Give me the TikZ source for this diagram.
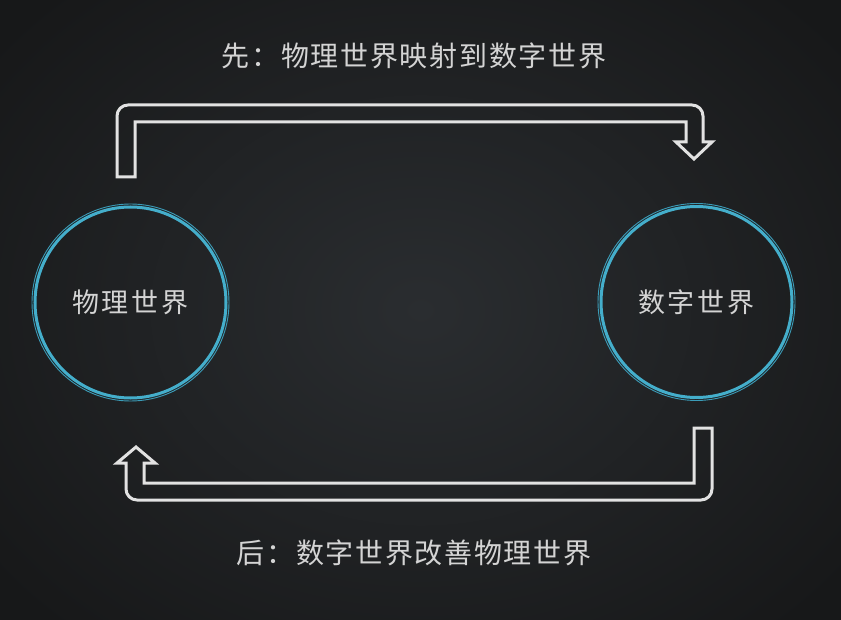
\documentclass[tikz,border=0pt]{standalone}
\usepackage{fontspec}
\newfontfamily\cjk[LetterSpace=6]{Noto Sans CJK SC}
\newfontfamily\cjkwide[LetterSpace=11]{Noto Sans CJK SC}
\definecolor{bginner}{HTML}{2A2D30}
\definecolor{bgouter}{HTML}{171819}
\definecolor{ringblue}{HTML}{44AECB}
\definecolor{ringthin}{HTML}{3B9CB8}
\definecolor{txtgray}{HTML}{D4D4D4}
\definecolor{arrowwhite}{HTML}{E2E2E2}
\tikzset{
  label text/.style={text=txtgray, font=\cjk\fontsize{28}{32}\selectfont, inner sep=0pt},
  world/.style={circle, draw=ringblue, line width=3pt, minimum size=191pt, inner sep=0pt,
    text=txtgray, font=\cjkwide\fontsize{27}{30}\selectfont},
  thinring/.style={draw=ringthin, line width=0.9pt},
  bandarrow/.style={draw=arrowwhite, line width=3pt, line join=miter},
}
\begin{document}
\begin{tikzpicture}[x=1pt,y=-1pt]
\useasboundingbox (0,0) rectangle (841,620);
\shade[inner color=bginner, outer color=bgouter] (-120,-120) rectangle (961,740);
% circles
\node[world] (phys) at (130.5,302.5) {物理世界};
\node[world] (digi) at (696.5,302) {数字世界};
\draw[thinring] (phys.center) circle[radius=98.5];
\draw[thinring] (digi.center) circle[radius=98.5];
% labels
\node[label text] (top) at (414,56) {先：物理世界映射到数字世界};
\node[label text] (bot) at (414,553) {后：数字世界改善物理世界};
% top band arrow
\coordinate (t1) at (117,177);
\draw[bandarrow] (t1) [rounded corners=11pt] -- (117,105) -- (703,105) [sharp corners] -- (703,142)
  -- (712,142) -- (694,159) -- (676,142) -- (686,142) -- (686,122) -- (135,122) -- (135,177) -- cycle;
% bottom band arrow
\coordinate (b1) at (712,428);
\draw[bandarrow] (b1) [rounded corners=11pt] -- (712,500) -- (126,500) [sharp corners] -- (126,463)
  -- (117,463) -- (136,447) -- (155,463) -- (144,463) -- (144,483) -- (694,483) -- (694,428) -- cycle;
\end{tikzpicture}
\end{document}
